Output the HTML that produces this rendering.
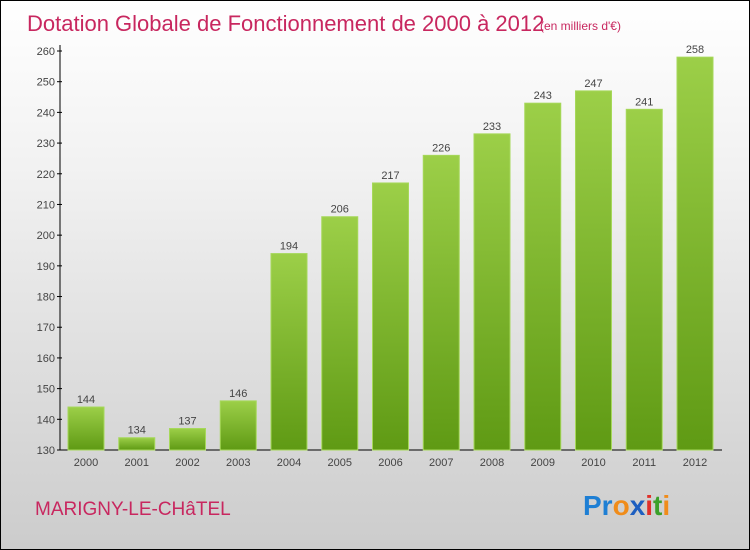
<!DOCTYPE html>
<html><head><meta charset="utf-8"><style>
body{margin:0}
#c{position:relative;width:750px;height:550px;box-sizing:border-box;border:1px solid #000;background:linear-gradient(#fff,#f2f2f2 30%,#ccc);font-family:"Liberation Sans",sans-serif;overflow:hidden}
</style></head><body>
<div id="c">
<svg width="750" height="550" style="position:absolute;left:-1px;top:-1px">
<defs><linearGradient id="g" x1="0" y1="0" x2="0" y2="1"><stop offset="0" stop-color="#9ccf48"/><stop offset="1" stop-color="#5f9a14"/></linearGradient></defs>
<text x="27" y="31" font-size="22" fill="#c8275f">Dotation Globale de Fonctionnement de 2000 à 2012</text>
<text x="540" y="30" font-size="12" fill="#c8275f">(en milliers d'€)</text>
<g id="plot"></g>
<text x="35" y="515" font-size="19" fill="#c8275f">MARIGNY-LE-CHâTEL</text>
<text x="583" y="515" font-size="28" font-weight="bold"><tspan fill="#1e7fd4">Pr</tspan><tspan fill="#f08c1a">o</tspan><tspan fill="#1e5fc0">x</tspan><tspan fill="#e0302a">i</tspan><tspan fill="#3aa02a">t</tspan><tspan fill="#f08c1a">i</tspan></text>
</svg>
</div>
<script>
const categories=["2000","2001","2002","2003","2004","2005","2006","2007","2008","2009","2010","2011","2012"];
const values=[144,134,137,146,194,206,217,226,233,243,247,241,258];
const yTicks=[130,140,150,160,170,180,190,200,210,220,230,240,250,260];
const NS="http://www.w3.org/2000/svg";
const g=document.getElementById('plot');
const y=v=>450-(v-130)*(450-51)/130;
const x=i=>86+i*50.75;
function mk(t,a){const e=document.createElementNS(NS,t);for(const k in a)e.setAttribute(k,a[k]);g.appendChild(e);return e;}
let e=mk('line',{x1:60,y1:45,x2:60,y2:450,stroke:'#000'});


e=mk('line',{x1:60,y1:450,x2:722,y2:450,stroke:'#000'});


yTicks.forEach(v=>{
 const t=mk('line',{x1:57,y1:y(v),x2:62,y2:y(v),stroke:'#000'});
 
 
 const l=mk('text',{x:55,y:y(v)+4,'font-size':11,fill:'#444','text-anchor':'end'});
 l.textContent=v;
 
 
});
categories.forEach((c,i)=>{
 const b=mk('rect',{x:x(i)-18,y:y(values[i]),width:36,height:450-y(values[i]),fill:'url(#g)',stroke:'#a6d85a','stroke-width':1});
 
 
 const v=mk('text',{x:x(i),y:y(values[i])-4,'font-size':11,fill:'#444','text-anchor':'middle'});
 v.textContent=values[i];
 
 
 const l=mk('text',{x:x(i),y:466,'font-size':11,fill:'#444','text-anchor':'middle'});
 l.textContent=c;
 
 
});
</script>
</body></html>
